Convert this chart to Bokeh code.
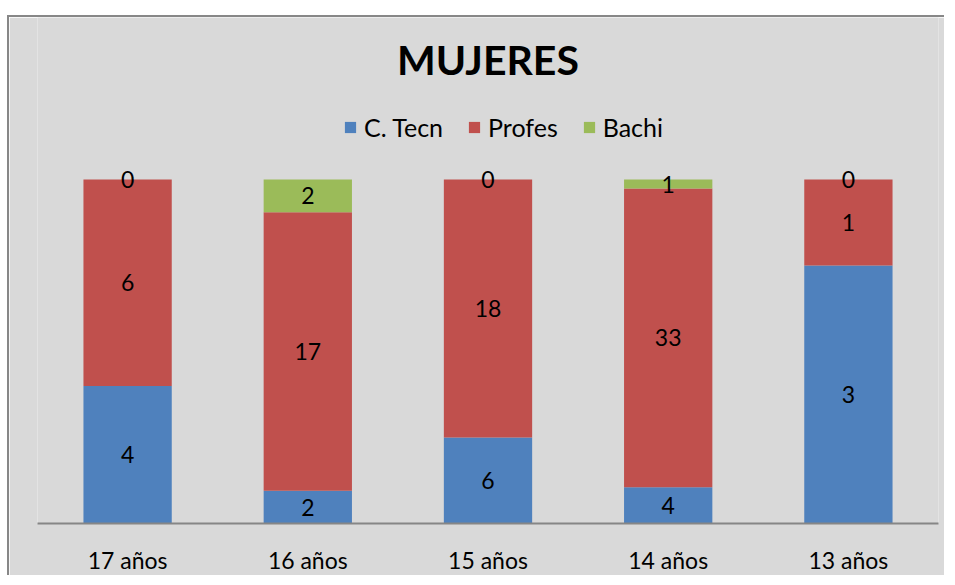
from bokeh.plotting import figure
from bokeh.models import ColumnDataSource, FactorRange, Range1d, Label, Legend, LegendItem
from bokeh.embed import file_html
from bokeh.resources import INLINE
from bokeh.core.properties import value

# ---- data ----
categories = ["17 años", "16 años", "15 años", "14 años", "13 años"]
c_tecn = [4, 2, 6, 4, 3]
profes = [6, 17, 18, 33, 1]
bachi = [0, 2, 0, 1, 0]
series_names = ["C. Tecn", "Profes", "Bachi"]
series_keys = ["ctecn", "profes", "bachi"]
colors = ["#4f81bd", "#c0504d", "#9bbb59"]
title_text = "MUJERES"

series_vals = [c_tecn, profes, bachi]
totals = [sum(v) for v in zip(*series_vals)]

data = {"cat": categories}
for key, vals in zip(series_keys, series_vals):
    data[key] = [v / t for v, t in zip(vals, totals)]
source = ColumnDataSource(data)

FONT = "Lato"
BG = "#d9d9d9"

p = figure(
    x_range=FactorRange(*categories, range_padding=0),
    y_range=Range1d(0, 506 / 344),
    width=937, height=560,
    output_backend="svg", toolbar_location=None,
    y_axis_location=None,
    min_border_left=28, min_border_right=8, min_border_top=0, min_border_bottom=54,
)
p.styles = {"position": "relative", "top": "15px", "left": "7px",
            "border-left": "2px solid #878787", "border-top": "2px solid #878787"}
p.background_fill_color = BG
p.border_fill_color = BG
p.outline_line_color = None
p.xgrid.grid_line_color = None
p.ygrid.grid_line_color = None

renderers = p.vbar_stack(series_keys, x="cat", width=0.49, color=colors,
                         line_color=None, source=source)

# data labels
bottoms = [0.0] * len(categories)
for key, vals in zip(series_keys, series_vals):
    fr = data[key]
    ys = [b + f / 2 for b, f in zip(bottoms, fr)]
    lsrc = ColumnDataSource({"cat": categories, "y": ys, "t": [str(v) for v in vals]})
    p.text(x="cat", y="y", text="t", source=lsrc, text_align="center",
           text_baseline="middle", text_font=value(FONT), text_font_size="23px",
           text_color="black")
    bottoms = [b + f for b, f in zip(bottoms, fr)]

# x axis
ax = p.xaxis[0]
ax.axis_line_color = "#868686"
ax.axis_line_width = 2
ax.major_tick_line_color = None
ax.minor_tick_line_color = None
ax.major_tick_out = 0
ax.major_tick_in = 0
ax.major_label_text_font = FONT
ax.major_label_text_font_size = "23px"
ax.major_label_text_color = "black"
ax.major_label_standoff = 22

# legend
legend = Legend(
    items=[LegendItem(label=n, renderers=[r]) for n, r in zip(series_names, renderers)],
    orientation="horizontal", location=(306, 381),
    background_fill_alpha=0, border_line_color=None, padding=0, margin=0,
    spacing=24, label_standoff=7, glyph_width=14, glyph_height=14,
    label_text_font=FONT, label_text_font_size="25px", label_text_color="black",
)
p.add_layout(legend)

# title
p.add_layout(Label(x=2.5, y=(506 - 42) / 344, text=title_text, text_align="center",
                   text_baseline="middle", text_font=FONT, text_font_style="bold",
                   text_font_size="41px", text_color="black"))

open("out.html", "w").write(file_html(p, INLINE))
